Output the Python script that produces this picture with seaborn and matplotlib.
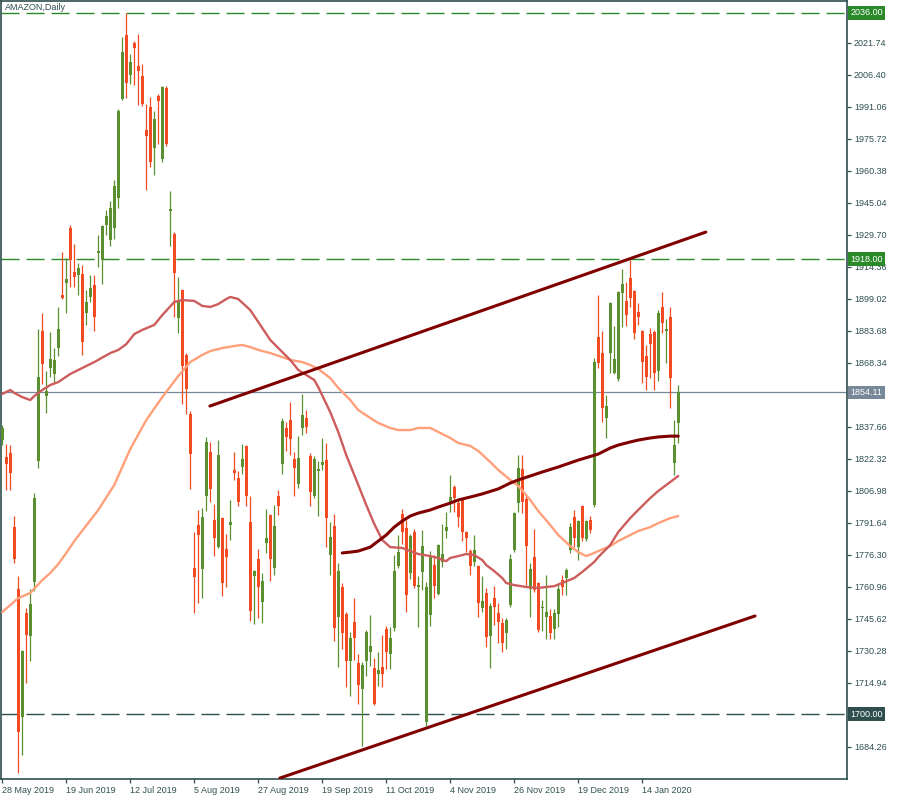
import matplotlib
matplotlib.use("Agg")
import matplotlib.pyplot as plt
import seaborn as sns
import numpy as np

# ---------------- data ----------------
opens = [1831.3, 1823.2, 1825.1, 1789.6, 1759.9, 1698.6, 1748.4, 1737.4, 1763.3, 1821.3,
         1883.6, 1852.4, 1865.8, 1863.0, 1875.4, 1900.8, 1906.6, 1933.0, 1911.9, 1910.4,
         1910.9, 1892.2, 1899.9, 1905.6, 1921.0, 1918.1, 1934.4, 1927.2, 1933.0, 1947.3,
         1994.8, 2025.5, 2006.3, 2021.6, 2010.6, 2005.8, 1979.9, 1990.9, 1971.3, 1996.2,
         1966.0, 2000.1, 1941.1, 1930.1, 1889.8, 1903.2, 1872.1, 1843.8, 1770.0, 1790.6,
         1769.5, 1804.5, 1825.6, 1793.0, 1780.0, 1793.9, 1779.1, 1790.6, 1817.0, 1813.1,
         1818.4, 1828.5, 1792.0, 1766.1, 1774.3, 1753.7, 1782.0, 1795.4, 1770.0, 1804.5,
         1819.8, 1837.1, 1840.9, 1822.2, 1810.2, 1837.1, 1841.9, 1823.7, 1804.5, 1816.5,
         1819.3, 1821.7, 1776.2, 1790.1, 1746.5, 1760.9, 1747.9, 1725.4, 1744.1, 1724.4,
         1712.0, 1725.4, 1729.7, 1722.0, 1719.2, 1722.5, 1740.7, 1728.8, 1741.2, 1770.9,
         1795.9, 1789.2, 1767.6, 1787.2, 1760.9, 1768.1, 1696.2, 1747.4, 1771.4, 1757.5,
         1772.9, 1787.7, 1801.1, 1808.8, 1801.1, 1802.6, 1787.2, 1778.1, 1772.9, 1770.9,
         1750.8, 1758.0, 1737.4, 1755.6, 1748.4, 1743.6, 1738.8, 1752.2, 1778.6, 1801.1,
         1817.4, 1803.1, 1759.9, 1775.2, 1762.8, 1750.8, 1746.5, 1747.0, 1740.7, 1747.9,
         1764.2, 1765.2, 1778.6, 1794.4, 1780.0, 1799.7, 1783.9, 1793.0, 1800.2, 1880.7,
         1873.0, 1841.9, 1873.0, 1863.4, 1860.6, 1901.8, 1898.0, 1909.0, 1902.8, 1892.7,
         1883.6, 1871.6, 1882.1, 1883.1, 1864.4, 1895.1, 1883.6, 1890.3, 1820.3, 1839.5]
highs = [1838.5, 1829.4, 1828.9, 1794.9, 1766.1, 1730.7, 1750.8, 1759.9, 1805.9, 1884.5,
         1892.2, 1864.4, 1883.1, 1875.4, 1895.1, 1921.4, 1918.6, 1934.4, 1925.3, 1916.2,
         1915.2, 1903.2, 1910.4, 1910.4, 1929.6, 1934.4, 1941.6, 1945.9, 1956.0, 1990.0,
         2024.5, 2036.0, 2016.4, 2022.6, 2025.9, 2011.6, 1992.4, 1995.7, 1989.0, 1997.2,
         2001.0, 2001.0, 1950.7, 1931.0, 1909.5, 1903.7, 1873.0, 1845.2, 1787.2, 1797.8,
         1798.7, 1832.8, 1830.4, 1800.7, 1831.3, 1794.4, 1786.3, 1802.6, 1825.6, 1816.5,
         1829.4, 1828.9, 1804.5, 1769.0, 1779.1, 1767.6, 1798.3, 1795.9, 1800.2, 1807.4,
         1841.9, 1840.0, 1849.5, 1825.6, 1833.2, 1853.4, 1845.7, 1825.1, 1823.7, 1821.3,
         1832.3, 1829.9, 1792.0, 1795.9, 1772.4, 1762.8, 1748.9, 1739.3, 1755.6, 1728.8,
         1724.9, 1740.3, 1747.4, 1726.8, 1729.7, 1737.9, 1742.2, 1741.7, 1776.2, 1785.8,
         1798.3, 1793.0, 1786.3, 1788.7, 1766.1, 1788.2, 1763.3, 1778.1, 1776.2, 1781.5,
         1791.1, 1796.8, 1814.6, 1809.8, 1803.1, 1803.5, 1787.7, 1779.1, 1785.8, 1771.4,
         1766.1, 1760.4, 1753.2, 1761.3, 1753.2, 1746.0, 1746.0, 1776.7, 1796.8, 1824.1,
         1824.1, 1805.0, 1772.4, 1788.7, 1763.3, 1754.6, 1766.6, 1750.3, 1750.3, 1762.8,
         1766.6, 1770.0, 1791.5, 1797.8, 1793.0, 1800.2, 1793.0, 1794.9, 1870.6, 1900.8,
         1883.6, 1852.9, 1897.5, 1886.0, 1902.8, 1913.3, 1907.1, 1917.6, 1903.2, 1897.0,
         1884.1, 1876.9, 1885.0, 1884.1, 1893.6, 1902.3, 1889.3, 1895.1, 1840.9, 1857.7]
lows = [1828.9, 1807.4, 1807.4, 1772.4, 1671.7, 1680.3, 1714.9, 1725.4, 1759.0, 1817.9,
        1858.2, 1844.3, 1861.5, 1858.7, 1871.6, 1898.9, 1892.2, 1904.7, 1904.7, 1900.8,
        1872.1, 1886.5, 1897.5, 1883.6, 1914.2, 1906.1, 1929.6, 1924.3, 1927.7, 1942.5,
        1994.3, 1995.3, 2002.0, 2001.5, 1991.9, 1991.4, 1951.2, 1962.2, 1958.4, 1973.2,
        1964.6, 1972.3, 1924.3, 1890.3, 1882.6, 1848.6, 1843.8, 1807.9, 1748.4, 1753.2,
        1755.6, 1797.3, 1801.6, 1775.7, 1779.6, 1756.5, 1760.9, 1783.4, 1812.2, 1799.7,
        1815.0, 1799.7, 1744.6, 1743.1, 1746.0, 1743.6, 1777.2, 1763.7, 1766.6, 1795.4,
        1815.0, 1826.1, 1824.1, 1804.5, 1808.3, 1833.7, 1834.7, 1799.7, 1803.5, 1794.9,
        1817.0, 1780.0, 1766.6, 1735.0, 1722.5, 1731.2, 1712.9, 1708.6, 1725.9, 1704.8,
        1684.7, 1718.2, 1723.0, 1704.3, 1713.4, 1712.9, 1721.6, 1721.6, 1739.8, 1770.0,
        1781.5, 1748.9, 1764.7, 1760.4, 1741.7, 1759.4, 1694.2, 1742.2, 1755.6, 1757.0,
        1770.5, 1784.4, 1796.8, 1796.8, 1789.6, 1782.9, 1777.6, 1766.6, 1770.9, 1746.5,
        1748.9, 1732.1, 1722.0, 1742.6, 1734.0, 1729.7, 1731.2, 1751.3, 1777.6, 1796.8,
        1796.3, 1761.8, 1746.5, 1758.5, 1739.3, 1739.8, 1736.0, 1736.0, 1736.0, 1741.7,
        1757.0, 1757.0, 1777.2, 1780.0, 1773.8, 1782.9, 1782.9, 1786.8, 1799.2, 1865.8,
        1840.0, 1832.3, 1863.4, 1863.0, 1859.6, 1885.5, 1886.0, 1895.1, 1879.7, 1886.5,
        1858.7, 1855.3, 1861.0, 1855.3, 1859.6, 1882.6, 1868.2, 1846.7, 1814.6, 1829.9]
closes = [1837.1, 1819.8, 1815.5, 1774.3, 1691.4, 1730.2, 1737.9, 1752.7, 1803.5, 1861.5,
          1867.8, 1854.8, 1870.2, 1869.7, 1884.5, 1899.4, 1908.5, 1917.6, 1909.5, 1913.8,
          1878.3, 1897.5, 1904.2, 1890.3, 1921.9, 1933.9, 1938.7, 1942.5, 1953.1, 1989.0,
          2017.3, 2002.5, 2012.5, 2019.2, 2008.2, 1992.4, 1977.0, 1964.6, 1985.2, 1993.8,
          2000.5, 1973.2, 1942.1, 1911.4, 1898.0, 1866.8, 1855.8, 1824.6, 1765.7, 1785.8,
          1794.4, 1830.4, 1807.9, 1784.4, 1824.1, 1762.8, 1775.2, 1792.0, 1815.5, 1801.6,
          1822.2, 1804.5, 1749.4, 1768.5, 1760.9, 1763.7, 1784.4, 1774.3, 1790.1, 1799.7,
          1840.4, 1832.8, 1831.8, 1817.9, 1822.7, 1843.3, 1837.6, 1806.4, 1822.2, 1817.4,
          1820.8, 1793.9, 1784.8, 1741.2, 1768.5, 1738.8, 1725.4, 1736.4, 1736.4, 1713.9,
          1723.5, 1739.3, 1732.6, 1704.8, 1721.1, 1719.2, 1729.7, 1736.4, 1768.5, 1777.6,
          1787.2, 1757.0, 1785.3, 1761.3, 1761.8, 1780.5, 1760.9, 1775.7, 1761.3, 1781.0,
          1776.7, 1789.6, 1804.0, 1803.5, 1794.4, 1787.2, 1784.4, 1770.9, 1778.6, 1753.2,
          1754.2, 1736.9, 1751.8, 1751.3, 1744.1, 1734.0, 1745.1, 1774.3, 1796.3, 1817.9,
          1801.6, 1780.5, 1769.5, 1759.4, 1740.3, 1751.3, 1748.9, 1738.8, 1748.4, 1759.9,
          1760.9, 1769.0, 1789.6, 1784.4, 1792.5, 1784.4, 1792.5, 1788.2, 1868.7, 1868.2,
          1846.7, 1847.6, 1897.0, 1870.2, 1902.3, 1906.1, 1891.2, 1899.4, 1882.6, 1890.3,
          1868.7, 1861.5, 1877.3, 1863.4, 1892.2, 1887.4, 1884.5, 1861.0, 1828.9, 1854.11]

# moving averages (bar index, value)
ma_red_bars = [0, 2, 3, 5, 7, 8, 10, 12, 14, 17, 19, 23, 27, 29, 31, 33, 35, 38, 40, 43,
               45, 48, 50, 52, 54, 56, 57, 59, 62, 64, 67, 69, 72, 74, 78, 79, 82, 84, 86, 88,
               89, 91, 93, 95, 97, 100, 102, 104, 107, 109, 110, 111, 112, 114, 116, 118, 120, 121, 123, 125,
               126, 128, 131, 134, 136, 138, 140, 143, 145, 148, 149, 152, 154, 157, 159, 162, 164, 167, 169]
ma_red_vals = [1853.4, 1855.3, 1853.9, 1851.9, 1850.5, 1852.4, 1855.3, 1857.7, 1859.1, 1863.0,
               1864.9, 1868.7, 1873.0, 1874.5, 1877.3, 1882.1, 1884.1, 1886.5, 1891.2, 1897.5,
               1898.4, 1898.0, 1895.6, 1895.1, 1896.5, 1898.9, 1899.9, 1898.9, 1893.6, 1887.9,
               1879.3, 1875.4, 1869.7, 1864.9, 1860.1, 1856.7, 1844.7, 1835.2, 1824.1, 1814.6,
               1809.8, 1800.2, 1791.1, 1783.4, 1780.0, 1779.6, 1778.1, 1776.7, 1775.7, 1774.8,
               1773.8, 1773.3, 1774.8, 1775.7, 1776.7, 1776.2, 1773.8, 1771.4, 1768.5, 1765.2,
               1762.8, 1761.8, 1760.9, 1760.4, 1760.9, 1761.3, 1762.8, 1765.2, 1768.1, 1772.9,
               1775.2, 1781.0, 1787.2, 1793.9, 1797.8, 1803.5, 1806.9, 1811.2, 1814.1]
ma_salmon_bars = [0, 4, 7, 10, 12, 14, 16, 18, 24, 28, 32, 36, 40, 44, 47, 50, 52, 55, 58, 60,
                  62, 64, 67, 70, 72, 75, 77, 79, 82, 84, 87, 89, 92, 94, 97, 99, 102, 104, 107, 109,
                  112, 114, 117, 119, 122, 124, 127, 129, 132, 134, 137, 139, 142, 144, 146, 148, 149, 152, 154, 157,
                  159, 162, 164, 167, 169]
ma_salmon_vals = [1748.9, 1755.6, 1758.0, 1764.2, 1767.6, 1771.9, 1777.2, 1782.9, 1797.8, 1809.8,
                  1827.0, 1840.9, 1851.9, 1862.0, 1868.7, 1872.1, 1874.0, 1875.4, 1876.4, 1876.9,
                  1875.9, 1874.5, 1873.0, 1871.1, 1869.7, 1868.7, 1867.3, 1865.4, 1861.0, 1856.3,
                  1850.5, 1845.7, 1841.9, 1839.5, 1837.1, 1836.1, 1836.1, 1837.1, 1837.1, 1835.2,
                  1832.3, 1829.9, 1828.5, 1826.1, 1820.8, 1817.0, 1812.2, 1809.3, 1802.6, 1797.3,
                  1790.6, 1785.8, 1780.5, 1777.6, 1775.7, 1777.2, 1778.1, 1780.5, 1782.9, 1785.8,
                  1787.7, 1789.6, 1791.5, 1793.9, 1794.9]
ma_dark_bars = [85, 87, 89, 92, 94, 96, 98, 100, 102, 104, 107, 109, 112, 114, 117, 120, 124,
                127, 129, 132, 135, 139, 144, 149, 152, 154, 157, 159, 162, 164, 167, 169]
ma_dark_vals = [1777.2, 1777.6, 1778.1, 1780.0, 1782.9, 1785.8, 1789.6, 1792.5, 1794.9, 1796.3,
                1797.8, 1799.2, 1801.1, 1802.6, 1804.0, 1805.5, 1807.9, 1810.7, 1812.2, 1814.1,
                1816.0, 1818.4, 1821.7, 1824.6, 1827.5, 1828.9, 1830.4, 1831.3, 1832.3, 1832.8,
                1833.2, 1833.2]

# channel trend lines (anchor bars / prices)
trend_upper_bars = [51.9, 175.9]
trend_upper_prices = [1847.6, 1931.0]
trend_lower_bars = [69.4, 188.2]
trend_lower_prices = [1669.3, 1747.0]

# horizontal levels
level_prices = [2036.00, 1918.00, 1700.00]
level_labels = ["2036.00", "1918.00", "1700.00"]
last_price = 1854.11
last_label = "1854.11"

ytick_vals = [1684.26, 1714.94, 1730.28, 1745.62, 1760.96, 1776.30, 1791.64, 1806.98,
              1822.32, 1837.66, 1868.34, 1883.68, 1899.02, 1914.36, 1929.70, 1945.04,
              1960.38, 1975.72, 1991.06, 2006.40, 2021.74]
ytick_labels = ["1684.26", "1714.94", "1730.28", "1745.62", "1760.96", "1776.30", "1791.64",
                "1806.98", "1822.32", "1837.66", "1868.34", "1883.68", "1899.02", "1914.36",
                "1929.70", "1945.04", "1960.38", "1975.72", "1991.06", "2006.40", "2021.74"]
xtick_bars = [0, 16, 32, 48, 64, 80, 96, 112, 128, 144, 160]
xtick_labels = ["28 May 2019", "19 Jun 2019", "12 Jul 2019", "5 Aug 2019", "27 Aug 2019",
                "19 Sep 2019", "11 Oct 2019", "4 Nov 2019", "26 Nov 2019", "19 Dec 2019",
                "14 Jan 2020"]
title = "AMAZON,Daily"

# ---------------- style ----------------
sns.set_style("white")
plt.rcParams["font.family"] = ["Liberation Sans", "DejaVu Sans"]

FRAME = "#2f4f4f"
GREEN = "#5b9031"
RED = "#f24b24"
FS = 6.5

fig = plt.figure(figsize=(9, 8), dpi=100)
ax = fig.add_axes([1 / 900, 21 / 800, 846 / 900, 778 / 800])
ax.set_facecolor("white")

o = np.array(opens)
h = np.array(highs)
l = np.array(lows)
c = np.array(closes)
idx = np.arange(len(c))
up = c >= o
cols = np.where(up, GREEN, RED)

# candles
ax.vlines(idx, l, h, colors=cols, linewidth=0.9, zorder=3)
body_bottom = np.minimum(o, c)
body_h = np.maximum(np.abs(c - o), 0.55)
ax.bar(idx, body_h, bottom=body_bottom, width=0.72, color=cols, linewidth=0, zorder=4)

# horizontal levels
ax.axhline(level_prices[0], color="#2a8a2a", linewidth=1.0, dashes=(13, 5), zorder=2)
ax.axhline(level_prices[1], color="#2a8a2a", linewidth=1.0, dashes=(13, 5), zorder=2)
ax.axhline(level_prices[2], color=FRAME, linewidth=1.0, dashes=(13, 5), zorder=2)
ax.axhline(last_price, color="#778899", linewidth=0.9, zorder=2)

# moving averages
sns.lineplot(x=ma_salmon_bars, y=ma_salmon_vals, ax=ax, color="#ffa07a",
             linewidth=1.7, estimator=None, sort=False, zorder=5)
sns.lineplot(x=ma_red_bars, y=ma_red_vals, ax=ax, color="#cd5c5c",
             linewidth=1.7, estimator=None, sort=False, zorder=5)
sns.lineplot(x=ma_dark_bars, y=ma_dark_vals, ax=ax, color="#800000",
             linewidth=2.2, estimator=None, sort=False, zorder=5)

# channel
sns.lineplot(x=trend_upper_bars, y=trend_upper_prices, ax=ax, color="#800000",
             linewidth=2.2, estimator=None, sort=False, zorder=6)
sns.lineplot(x=trend_lower_bars, y=trend_lower_prices, ax=ax, color="#800000",
             linewidth=2.2, estimator=None, sort=False, zorder=6)

ax.set_xlim(-0.325, 211.2)
ax.set_ylim(1668.86, 2041.75)
ax.set_xlabel("")
ax.set_ylabel("")

# axes
ax.yaxis.tick_right()
ax.set_yticks(ytick_vals)
ax.set_yticklabels(ytick_labels)
ax.set_xticks(xtick_bars)
ax.set_xticklabels(xtick_labels, ha="left")
ax.tick_params(axis="y", which="both", direction="out", length=3, width=0.9,
               color=FRAME, labelcolor=FRAME, labelsize=FS, pad=2, right=True, left=False)
ax.tick_params(axis="x", which="both", direction="out", length=3, width=0.9,
               color=FRAME, labelcolor=FRAME, labelsize=FS, pad=2, bottom=True)
for s in ax.spines.values():
    s.set_color(FRAME)
    s.set_linewidth(1.2)
    s.set_visible(True)

# price boxes on the right axis
box_colors = ["#2a8a2a", "#2a8a2a", FRAME]
for price, lab, bc in zip(level_prices, level_labels, box_colors):
    ax.annotate(lab, xy=(1, price), xycoords=("axes fraction", "data"),
                xytext=(2.6, 0), textcoords="offset points", ha="left", va="center",
                fontsize=FS, color="white", annotation_clip=False, zorder=10,
                bbox=dict(boxstyle="square,pad=0.25", fc=bc, ec="none"))
ax.annotate(last_label, xy=(1, last_price), xycoords=("axes fraction", "data"),
            xytext=(2.6, 0), textcoords="offset points", ha="left", va="center",
            fontsize=FS, color="white", annotation_clip=False, zorder=10,
            bbox=dict(boxstyle="square,pad=0.25", fc="#778899", ec="none"))

ax.annotate(title, xy=(0, 1), xycoords="axes fraction", xytext=(3, -1.5),
            textcoords="offset points", ha="left", va="top", fontsize=FS, color=FRAME)

fig.savefig("out.png", dpi=100, facecolor="white")
